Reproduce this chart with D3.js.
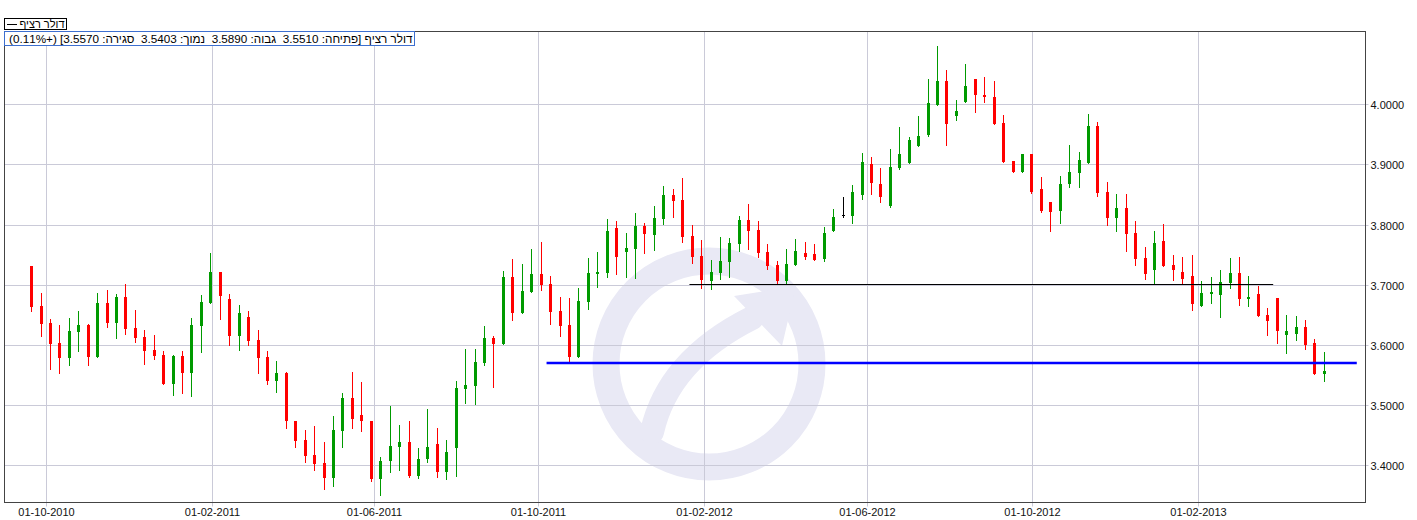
<!DOCTYPE html>
<html><head><meta charset="utf-8">
<script src="https://cdn.jsdelivr.net/npm/d3@7"></script>
<style>
body{margin:0;background:#fff}
svg{display:block}
text{font-family:"Liberation Sans",Arial,sans-serif;font-size:11px}
</style>
</head><body><svg id="c" width="1417" height="520"></svg>
<script>
// ---------- data ----------
const firstWeek = "2010-09-20";
const opens = [3.7309,3.6650,3.6362,3.6030,3.5781,3.6213,3.6329,3.5803,3.6694,3.6362,
3.6794,3.6279,3.6130,3.5914,3.5831,3.5349,3.5814,3.5537,3.6312,3.6694,
3.7209,3.6761,3.6146,3.6462,3.6080,3.5797,3.5399,3.5537,3.4740,3.4418,
3.4169,3.4036,3.3793,3.4573,3.5116,3.4834,3.4740,3.3776,3.4075,3.4308,
3.4391,3.3826,3.4108,3.4358,3.3892,3.4291,3.5271,3.5321,3.5703,3.6118,
3.6019,3.7126,3.6534,3.6883,3.7176,3.7010,3.6567,3.6329,3.5803,3.6716,
3.7176,3.7199,3.7941,3.7542,3.7592,3.7974,3.7824,3.8090,3.8489,3.8406,
3.7808,3.7475,3.7060,3.7193,3.7376,3.7675,3.8073,3.7907,3.7541,3.7325,
3.7060,3.7325,3.7525,3.7508,3.7425,3.7890,3.8156,3.8139,3.8488,3.9003,
3.8671,3.8306,3.8937,3.9025,3.9308,3.9490,3.9983,4.0382,3.9800,4.0033,
4.0415,4.0149,4.0116,3.9684,3.9053,3.8870,3.9169,3.8588,3.8372,3.8228,
3.8671,3.8853,3.9019,3.9634,3.8538,3.8106,3.8272,3.7857,3.7441,3.7242,
3.7724,3.7325,3.7209,3.7143,3.6644,3.6844,3.6827,3.7026,3.7193,3.6761,
3.6844,3.6495,3.6777,3.6163,3.6179,3.6296,3.6030,3.5510];
const highs = [3.7309,3.6866,3.6429,3.6329,3.6445,3.6567,3.6346,3.6866,3.6916,3.6844,
3.7016,3.6578,3.6251,3.6163,3.5897,3.5831,3.5897,3.6445,3.6827,3.7525,
3.7209,3.6844,3.6661,3.6562,3.6246,3.5897,3.5731,3.5554,3.4740,3.4585,
3.4651,3.4385,3.4817,3.5199,3.5554,3.5387,3.4740,3.4142,3.4989,3.4673,
3.4740,3.4291,3.4933,3.4623,3.4424,3.5404,3.5936,3.5936,3.6312,3.6146,
3.7226,3.7425,3.7342,3.7591,3.7708,3.7143,3.6794,3.6777,3.6943,3.7442,
3.7541,3.8090,3.8057,3.7857,3.8190,3.8024,3.8306,3.8638,3.8588,3.8771,
3.7990,3.7741,3.7409,3.7791,3.7774,3.8140,3.8339,3.8057,3.7674,3.7392,
3.7591,3.7757,3.7708,3.7674,3.7957,3.8256,3.8455,3.8654,3.9186,3.9119,
3.8937,3.9252,3.9618,3.9452,3.9800,4.0415,4.0963,4.0565,4.0066,4.0664,
4.0415,4.0448,4.0382,3.9817,3.9053,3.9169,3.9169,3.8787,3.8372,3.8804,
3.9318,3.9202,3.9833,3.9701,3.8704,3.8505,3.8505,3.8056,3.7624,3.7890,
3.8007,3.7492,3.7458,3.7492,3.7060,3.7126,3.7242,3.7442,3.7458,3.7143,
3.6977,3.6611,3.6777,3.6495,3.6478,3.6412,3.6096,3.5890];
const lows = [3.6567,3.6146,3.5604,3.5537,3.5665,3.5897,3.5665,3.5803,3.6296,3.6119,
3.6180,3.6047,3.5687,3.5764,3.5349,3.5166,3.5199,3.5150,3.5881,3.6694,
3.6429,3.5997,3.5914,3.5997,3.5537,3.5349,3.5216,3.4623,3.4308,3.4059,
3.3926,3.3610,3.3660,3.4308,3.4623,3.4573,3.3743,3.3510,3.3892,3.3926,
3.3809,3.3793,3.4059,3.3809,3.3776,3.3826,3.5039,3.5022,3.5664,3.5300,
3.6019,3.6417,3.6534,3.6883,3.6910,3.6345,3.6152,3.5703,3.5803,3.6595,
3.6960,3.7132,3.7176,3.7127,3.7110,3.7525,3.7575,3.8007,3.8123,3.7708,
3.7359,3.6944,3.6927,3.7093,3.7127,3.7558,3.7592,3.7459,3.7259,3.7010,
3.7030,3.7325,3.7425,3.7409,3.7392,3.7890,3.8123,3.8023,3.8422,3.8505,
3.8372,3.8289,3.8920,3.9025,3.9308,3.9474,3.9983,3.9319,3.9734,4.0033,
3.9867,4.0033,3.9668,3.9036,3.8870,3.8870,3.8527,3.8211,3.7890,3.8023,
3.8621,3.8621,3.9019,3.8471,3.7990,3.7890,3.7558,3.7325,3.7093,3.7026,
3.7309,3.7076,3.7026,3.6578,3.6644,3.6694,3.6462,3.6943,3.6661,3.6644,
3.6478,3.6163,3.6030,3.5864,3.6080,3.5930,3.5515,3.5403];
const closes = [3.6634,3.6346,3.6013,3.5781,3.6229,3.6329,3.5803,3.6694,3.6362,3.6794,
3.6263,3.6113,3.5903,3.5814,3.5349,3.5814,3.5537,3.6329,3.6711,3.7209,
3.6811,3.6146,3.6528,3.6063,3.5781,3.5399,3.5532,3.4740,3.4407,3.4158,
3.4025,3.3793,3.4585,3.5116,3.4773,3.4740,3.3776,3.4075,3.4324,3.4391,
3.3826,3.4108,3.4308,3.3892,3.4225,3.5288,3.5338,3.5720,3.6118,3.6019,
3.7126,3.6534,3.6894,3.7176,3.6993,3.6550,3.6318,3.5803,3.6727,3.7193,
3.7209,3.7891,3.7464,3.7608,3.7974,3.7841,3.8107,3.8489,3.8389,3.7791,
3.7459,3.7077,3.7210,3.7392,3.7691,3.8073,3.7891,3.7525,3.7309,3.7060,
3.7342,3.7558,3.7458,3.7409,3.7857,3.8123,3.8156,3.8538,3.9036,3.8688,
3.8455,3.8953,3.9169,3.9402,3.9468,4.0016,4.0382,3.9668,3.9883,4.0299,
4.0149,4.0116,3.9668,3.9036,3.8870,3.9169,3.8538,3.8228,3.8211,3.8671,
3.8870,3.9069,3.9634,3.8521,3.8106,3.8272,3.7840,3.7425,3.7176,3.7691,
3.7309,3.7242,3.7093,3.6678,3.6860,3.6883,3.7043,3.7193,3.6761,3.6794,
3.6478,3.6395,3.6229,3.6229,3.6296,3.5997,3.5515,3.5570];
const yTicks = [3.4,3.5,3.6,3.7,3.8,3.9,4.0];
const xTickDates = ["2010-10-01","2011-02-01","2011-06-01","2011-10-01","2012-02-01","2012-06-01","2012-10-01","2013-02-01"];
const blackLine = {from:"2012-01-21", to:"2013-03-29", value:3.70};
const blueLine  = {from:"2011-10-07", to:"2013-05-30", value:3.57};
const seriesName = "דולר רציף";
const infoText = "דולר רציף [פתיחה: 3.5510  גבוה: 3.5890  נמוך: 3.5403  סגירה: 3.5570] (+0.11%)";

// ---------- layout ----------
const svg = d3.select("#c");
const P = {left:4.5, right:1365.5, top:31.5, bottom:502.5};
const parse = d3.utcParse("%Y-%m-%d");
const x = d3.scaleUtc().domain([parse("2010-10-01"), parse("2013-02-01")]).range([46.4, 1197.7]);
const y = d3.scaleLinear().domain([3.4, 4.0]).range([465.4, 104.2]);
const snap = v => Math.round(v) + 0.5;

svg.append("rect").attr("width",1417).attr("height",520).attr("fill","#fff");

// watermark
const wmColor = "#e9e9f5";
const wm = svg.append("g").attr("fill","none").attr("stroke",wmColor);
wm.append("circle").attr("cx",709).attr("cy",364).attr("r",103).attr("stroke-width",27);
wm.append("path").attr("d","M652,432 Q668,360 752,318").attr("stroke-width",24).attr("stroke-linecap","round");
svg.append("path").attr("d","M796,286 L734,296 L782,346 Z").attr("fill",wmColor);

// grid
const grid = svg.append("g").attr("stroke","#cacad8").attr("stroke-width",1);
yTicks.forEach(t => {
  const yy = snap(y(t));
  grid.append("line").attr("x1",P.left).attr("x2",P.right+3).attr("y1",yy).attr("y2",yy);
});
xTickDates.forEach(t => {
  const xx = snap(x(parse(t)));
  grid.append("line").attr("x1",xx).attr("x2",xx).attr("y1",P.top).attr("y2",P.bottom+4);
});

// frame
svg.append("rect").attr("x",P.left).attr("y",P.top).attr("width",P.right-P.left).attr("height",P.bottom-P.top)
  .attr("fill","none").attr("stroke","#444");

// axis labels
const fmtY = d3.format(".4f");
svg.append("g").selectAll("text").data(yTicks).join("text")
  .attr("x",1370.5).attr("y",t => snap(y(t)) + 4).text(fmtY).attr("fill","#111");
const fmtX = d3.utcFormat("%d-%m-%Y");
svg.append("g").selectAll("text").data(xTickDates).join("text")
  .attr("x",t => snap(x(parse(t)))).attr("y",516).attr("text-anchor","middle").text(t => fmtX(parse(t))).attr("fill","#111");

// candles
const start = parse(firstWeek);
const candles = opens.map((o,i) => ({date:d3.utcDay.offset(start, 7*i), o, h:highs[i], l:lows[i], c:closes[i]}));
const col = d => d.c > d.o ? "#009a00" : (d.c < d.o ? "#ff0000" : "#000000");
const cg = svg.append("g");
candles.forEach(d => {
  const cx = Math.floor(x(d.date));
  const color = col(d);
  cg.append("line").attr("x1",cx+0.5).attr("x2",cx+0.5)
    .attr("y1",Math.round(y(d.h))).attr("y2",Math.round(y(d.l))+1)
    .attr("stroke",color).attr("stroke-width",1);
  const yt = Math.round(y(Math.max(d.o,d.c)));
  const yb = Math.round(y(Math.min(d.o,d.c)));
  cg.append("rect").attr("x",cx-1).attr("y",yt).attr("width",3).attr("height",Math.max(1,yb-yt))
    .attr("fill",color);
});

// horizontal lines
svg.append("line").attr("x1",x(parse(blackLine.from))).attr("x2",x(parse(blackLine.to)))
  .attr("y1",snap(y(blackLine.value))-1).attr("y2",snap(y(blackLine.value))-1)
  .attr("stroke","#000").attr("stroke-width",1);
svg.append("line").attr("x1",x(parse(blueLine.from))).attr("x2",x(parse(blueLine.to)))
  .attr("y1",y(blueLine.value)).attr("y2",y(blueLine.value))
  .attr("stroke","#0000ff").attr("stroke-width",2.6);

// legend
svg.append("rect").attr("x",4.5).attr("y",18.5).attr("width",62).attr("height",11)
  .attr("fill","#fff").attr("stroke","#000");
svg.append("line").attr("x1",7).attr("x2",17).attr("y1",24.5).attr("y2",24.5).attr("stroke","#000");
svg.append("text").attr("x",64.5).attr("y",28).attr("direction","rtl").attr("text-anchor","start")
  .text(seriesName).attr("fill","#000");
svg.append("rect").attr("x",4.5).attr("y",31.5).attr("width",410).attr("height",14)
  .attr("fill","#fff").attr("stroke","#3d6fd0");
const info = svg.append("text").attr("x",412.5).attr("y",42.5).attr("direction","rtl").attr("text-anchor","start")
  .style("white-space","pre").text(infoText).attr("fill","#000");
const len = info.node().getComputedTextLength();
if (len > 0) info.style("font-size", (11 * 404 / len).toFixed(2) + "px");
</script>
</body></html>
